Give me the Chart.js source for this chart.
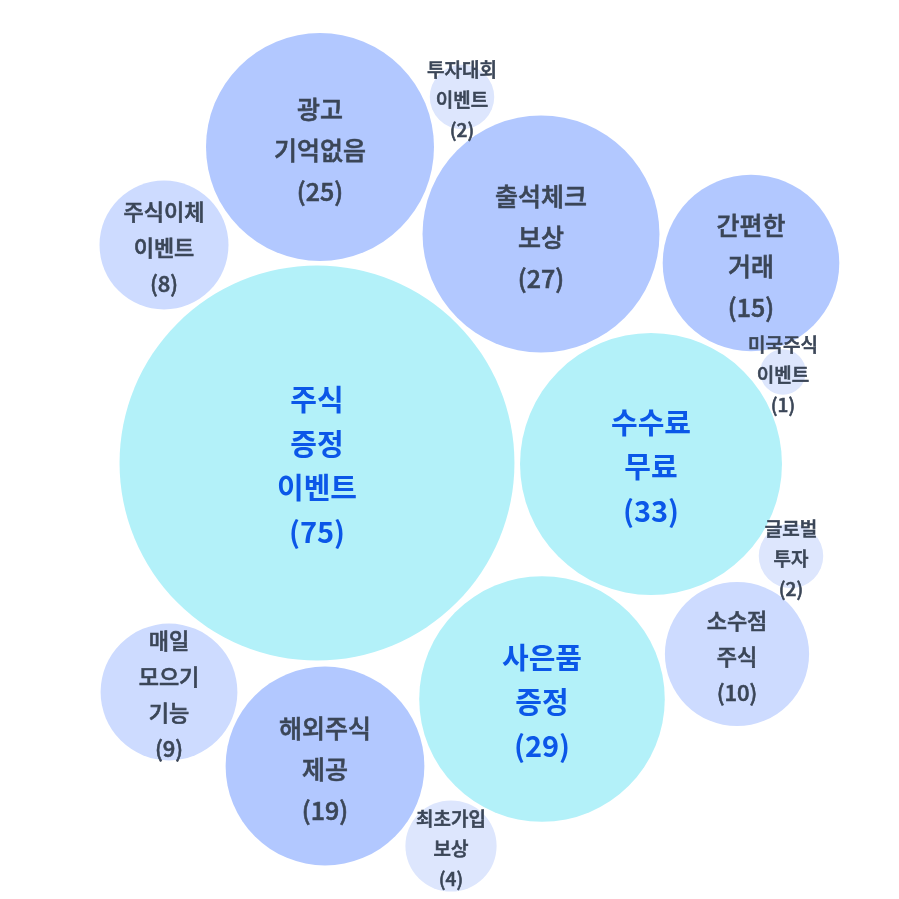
<!DOCTYPE html>
<html>
<head>
<meta charset="utf-8">
<script src="https://cdn.jsdelivr.net/npm/chart.js@4"></script>
<style>
  html, body { margin: 0; padding: 0; background: #fff; }
  #wrap { width: 899px; height: 899px; }
</style>
</head>
<body>
<div id="wrap"><canvas id="chart" width="899" height="899"></canvas></div>
<script>
// bubble data (x / y in the 0..899 plane, value -> area)
const labels = [
  ['주식', '증정', '이벤트'],
  ['수수료', '무료'],
  ['사은품', '증정'],
  ['출석체크', '보상'],
  ['광고', '기억없음'],
  ['해외주식', '제공'],
  ['간편한', '거래'],
  ['소수점', '주식'],
  ['매일', '모으기', '기능'],
  ['주식이체', '이벤트'],
  ['최초가입', '보상'],
  ['투자대회', '이벤트'],
  ['글로벌', '투자'],
  ['미국주식', '이벤트']
];
const values = [75, 33, 29, 27, 25, 19, 15, 10, 9, 8, 4, 2, 2, 1];
const xPos = [317, 651, 542, 541, 320, 325, 751, 737, 169, 164, 451, 462, 791, 783];
const yPos = [463, 464, 699, 234, 147, 766, 263, 654, 692, 245, 846, 97, 556, 372];

// size group -> colour, font size, line height
const tierOf = (v) => (v >= 29 ? 0 : v >= 15 ? 1 : v >= 8 ? 2 : 3);
const tierColors = ['#b3f1f9', '#b2c8ff', '#cddbff', '#dde6fd'];
const tierFont = [29, 25, 22, 19];
const tierLine = [44, 41, 36, 30];

const radiusFor = (v) => 22.8 * Math.sqrt(v);

const points = values.map((v, i) => ({ x: xPos[i], y: yPos[i], r: radiusFor(v) }));

// labels drawn at each bubble's centre
const bubbleLabels = {
  id: 'bubbleLabels',
  afterDatasetsDraw(chart) {
    const ctx = chart.ctx;
    const meta = chart.getDatasetMeta(0);
    meta.data.forEach((el, i) => {
      const v = values[i];
      const t = tierOf(v);
      const big = t === 0;
      const lh = tierLine[t];
      const lines = labels[i].concat(['(' + v + ')']);
      ctx.save();
      ctx.textAlign = 'center';
      ctx.textBaseline = 'middle';
      ctx.fillStyle = big ? '#0b57e8' : '#3b4657';
      ctx.strokeStyle = ctx.fillStyle;
      ctx.lineWidth = 0.6;
      ctx.font = (big ? '700 ' : '500 ') + tierFont[t] + 'px "Noto Sans CJK KR", "Noto Sans", sans-serif';
      const top = el.y + 3 - (lines.length - 1) * lh / 2;
      lines.forEach((s, k) => {
        ctx.fillText(s, el.x, top + k * lh);
        // gray labels are a touch heavier than regular
        if (!big) ctx.strokeText(s, el.x, top + k * lh);
      });
      ctx.restore();
    });
  }
};

new Chart(document.getElementById('chart'), {
  type: 'bubble',
  data: {
    datasets: [{
      data: points,
      backgroundColor: values.map((v) => tierColors[tierOf(v)]),
      borderWidth: 0,
      hoverRadius: 0
    }]
  },
  options: {
    responsive: false,
    animation: false,
    events: [],
    clip: false,
    layout: { padding: 0, autoPadding: false },
    plugins: { legend: { display: false }, tooltip: { enabled: false } },
    scales: {
      x: { type: 'linear', min: 0, max: 899, display: false },
      y: { type: 'linear', min: 0, max: 899, reverse: true, display: false }
    }
  },
  plugins: [bubbleLabels]
});
</script>
</body>
</html>
